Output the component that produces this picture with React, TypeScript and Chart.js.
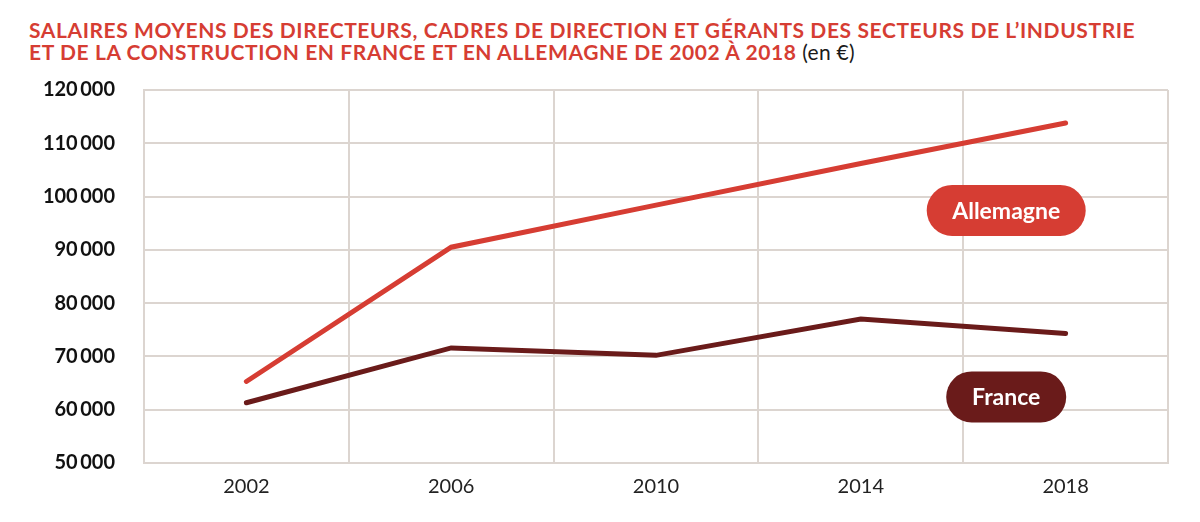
import React, { useEffect, useRef } from "react";
import { Chart, registerables } from "chart.js";

Chart.register(...registerables);

const years = ["2002", "2006", "2010", "2014", "2018"];
const allemagne = [65300, 90500, 98400, 106200, 113800];
const france = [61300, 71600, 70200, 77000, 74300];
const yTicks = [50000, 60000, 70000, 80000, 90000, 100000, 110000, 120000];

const RED = "#d63d33";
const DARK = "#6a1b1a";
const GRID = "#dcd5d0";
const FONT = "Lato, 'Open Sans', sans-serif";

const fmt = (v: number) => {
  const s = String(Math.round(v));
  return s.slice(0, s.length - 3) + "\u2009" + s.slice(s.length - 3);
};

const pillPlugin = {
  id: "pills",
  afterDatasetsDraw(chart: any) {
    const { ctx } = chart;
    const x = chart.scales.x;
    const y = chart.scales.y;
    const step = x.getPixelForValue(1) - x.getPixelForValue(0);
    const cx = x.getPixelForValue(3) + 0.71 * step;
    const pills = [
      { text: "Allemagne", color: RED, value: 97400, w: 159 },
      { text: "France", color: DARK, value: 62400, w: 120 },
    ];
    ctx.save();
    for (const p of pills) {
      const cy = y.getPixelForValue(p.value);
      const h = 51;
      const r = h / 2;
      ctx.beginPath();
      ctx.roundRect(cx - p.w / 2, cy - h / 2, p.w, h, r);
      ctx.fillStyle = p.color;
      ctx.fill();
      ctx.fillStyle = "#ffffff";
      ctx.font = `bold 23px ${FONT}`;
      ctx.textAlign = "center";
      ctx.textBaseline = "middle";
      ctx.fillText(p.text, cx, cy + 1);
    }
    ctx.restore();
  },
};

export default function App() {
  const ref = useRef<HTMLCanvasElement | null>(null);

  useEffect(() => {
    if (!ref.current) return;
    const chart = new Chart(ref.current, {
      type: "line",
      data: {
        labels: years,
        datasets: [
          {
            label: "Allemagne",
            data: allemagne,
            borderColor: RED,
            borderWidth: 5,
            borderCapStyle: "round",
            pointRadius: 0,
            tension: 0,
          },
          {
            label: "France",
            data: france,
            borderColor: DARK,
            borderWidth: 5,
            borderCapStyle: "round",
            pointRadius: 0,
            tension: 0,
          },
        ],
      },
      options: {
        animation: false,
        responsive: false,
        devicePixelRatio: 1,
        layout: { padding: { top: 90, right: 32, bottom: 0, left: 0 } },
        plugins: {
          legend: { display: false },
          tooltip: { enabled: false },
          title: { display: false },
        },
        scales: {
          x: {
            offset: true,
            grid: { offset: true, color: GRID, lineWidth: 2, drawTicks: false },
            border: { color: GRID, width: 2 },
            ticks: {
              color: "#222",
              padding: 12,
              font: { family: FONT, size: 20, weight: "normal" },
              maxRotation: 0,
            },
            afterFit: (s: any) => {
              s.height = 59;
            },
          },
          y: {
            min: 50000,
            max: 120000,
            afterBuildTicks: (s: any) => {
              s.ticks = yTicks.map((v) => ({ value: v }));
            },
            grid: { color: GRID, lineWidth: 2, drawTicks: false },
            border: { color: GRID, width: 2 },
            ticks: {
              color: "#111",
              padding: 29,
              font: { family: FONT, size: 20, weight: "bold" },
              callback: (v: any) => fmt(Number(v)),
            },
            afterFit: (s: any) => {
              s.width = 144;
            },
          },
        },
      },
      plugins: [pillPlugin],
    });
    return () => chart.destroy();
  }, []);

  return (
    <div
      style={{
        position: "absolute",
        left: 0,
        top: 0,
        width: 1200,
        height: 522,
        background: "#fff",
        overflow: "hidden",
      }}
    >
      <div
        style={{
          position: "absolute",
          left: 29,
          top: 19,
          fontFamily: FONT,
          fontSize: 21,
          lineHeight: "22px",
          letterSpacing: "0.6px",
          whiteSpace: "nowrap",
          color: RED,
          fontWeight: 700,
        }}
      >
        <div>SALAIRES MOYENS DES DIRECTEURS, CADRES DE DIRECTION ET GÉRANTS DES SECTEURS DE L’INDUSTRIE</div>
        <div>
          ET DE LA CONSTRUCTION EN FRANCE ET EN ALLEMAGNE DE 2002 À 2018{" "}
          <span style={{ color: "#1a1a1a", fontWeight: 400, letterSpacing: "0.3px" }}>(en €)</span>
        </div>
      </div>
      <canvas
        ref={ref}
        width={1200}
        height={522}
        style={{ position: "absolute", left: 0, top: 0, width: 1200, height: 522 }}
      />
    </div>
  );
}
